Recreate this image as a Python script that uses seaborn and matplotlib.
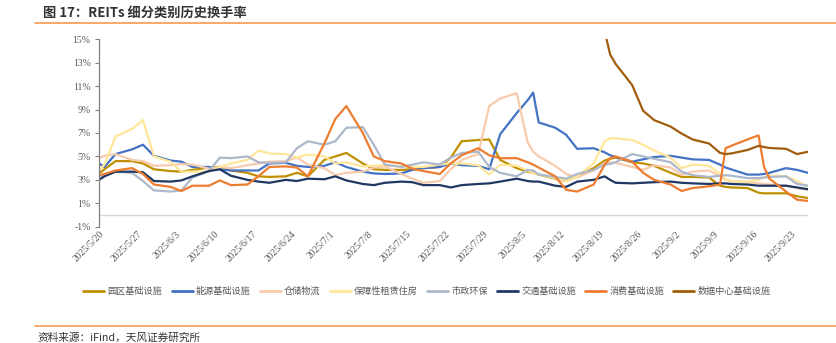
import numpy as np
import pandas as pd
import matplotlib
matplotlib.use("Agg")
import matplotlib.pyplot as plt
from matplotlib.lines import Line2D
from matplotlib.font_manager import FontProperties
import seaborn as sns

# ---------------- data ----------------
dates = ["2025-05-20", "2025-05-21", "2025-05-23", "2025-05-26", "2025-05-28", "2025-05-30",
         "2025-06-02", "2025-06-04", "2025-06-06", "2025-06-09", "2025-06-11", "2025-06-13",
         "2025-06-16", "2025-06-18", "2025-06-20", "2025-06-23", "2025-06-25", "2025-06-27",
         "2025-06-30", "2025-07-02", "2025-07-04", "2025-07-07", "2025-07-09", "2025-07-11",
         "2025-07-14", "2025-07-16", "2025-07-18", "2025-07-21", "2025-07-23", "2025-07-25",
         "2025-07-28", "2025-07-30", "2025-08-01", "2025-08-04", "2025-08-06", "2025-08-07",
         "2025-08-08", "2025-08-11", "2025-08-13", "2025-08-15", "2025-08-18", "2025-08-20",
         "2025-08-21", "2025-08-22", "2025-08-25", "2025-08-27", "2025-08-29", "2025-09-01",
         "2025-09-03", "2025-09-05", "2025-09-08", "2025-09-10", "2025-09-11", "2025-09-12",
         "2025-09-15", "2025-09-17", "2025-09-18", "2025-09-19", "2025-09-22", "2025-09-24",
         "2025-09-26"]

series_names = ["园区基础设施", "能源基础设施", "仓储物流", "保障性租赁住房",
                "市政环保", "交通基础设施", "消费基础设施", "数据中心基础设施"]

park = [3.55, 3.9, 4.6, 4.6, 4.4, 3.9, 3.75, 3.7, 3.85, 4.05, 4.1, 3.8,
        3.6, 3.3, 3.25, 3.3, 3.6, 3.3, 4.7, 5.0, 5.3, 4.4, 3.9, 3.85,
        3.85, 3.9, 4.0, 4.1, 4.9, 6.3, 6.4, 6.45, 4.7, 4.0, 3.7, 3.6,
        3.45, 3.1, 2.9, 3.3, 4.0, 4.65, 4.8, 4.9, 4.5, 4.4, 4.2, 3.6,
        3.25, 3.25, 3.2, 2.5, 2.4, 2.35, 2.3, 1.9, 1.85, 1.85, 1.85, 1.6, 1.45]
energy = [4.4, 4.1, 5.2, 5.6, 6.0, 5.05, 4.65, 4.55, 4.1, 4.1, 3.9, 3.8,
          3.8, 3.8, 4.4, 4.45, 4.2, 4.1, 4.2, 4.5, 4.1, 3.7, 3.55, 3.5,
          3.55, 3.85, 4.0, 4.1, 4.4, 4.25, 4.2, 3.9, 6.9, 8.7, 9.8, 10.45,
          7.9, 7.45, 6.85, 5.65, 5.7, 5.35, 5.1, 4.95, 4.55, 4.75, 4.95, 5.05,
          4.9, 4.75, 4.7, 4.3, 4.05, 3.9, 3.45, 3.45, 3.5, 3.6, 4.0, 3.85, 3.6]
warehouse = [4.85, 5.05, 5.2, 4.7, 4.6, 4.2, 4.25, 4.35, 4.3, 3.95, 4.1, 4.0,
             4.25, 4.4, 4.55, 4.6, 4.9, 4.3, 4.0, 3.4, 3.6, 3.7, 4.05, 4.15,
             3.5, 3.1, 2.75, 2.9, 3.9, 4.7, 5.2, 9.3, 9.95, 10.4, 6.2, 5.4,
             5.0, 4.2, 3.5, 3.2, 3.8, 4.45, 4.5, 4.45, 4.1, 3.85, 4.25, 4.05,
             3.45, 3.7, 3.8, 3.3, 3.0, 2.9, 2.8, 2.7, 2.65, 2.6, 2.5, 2.3, 2.15]
rental = [3.8, 4.3, 6.7, 7.35, 8.1, 5.0, 4.55, 3.7, 3.7, 3.7, 4.1, 4.4,
          4.7, 5.5, 5.25, 5.2, 4.9, 5.15, 5.0, 4.4, 4.5, 4.15, 4.2, 4.25,
          4.15, 4.1, 4.1, 4.3, 4.4, 4.4, 4.25, 3.45, 4.3, 4.2, 3.8, 3.55,
          3.45, 3.15, 2.9, 3.3, 4.4, 6.3, 6.55, 6.55, 6.4, 6.0, 5.5, 4.9,
          4.0, 4.3, 4.2, 3.5, 3.05, 2.9, 2.85, 3.0, 3.2, 3.35, 3.3, 2.9, 2.4]
municipal = [3.25, 3.4, 3.7, 3.6, 2.9, 2.1, 2.0, 2.1, 3.2, 3.75, 4.9, 4.85,
             5.0, 4.5, 4.45, 4.5, 5.7, 6.3, 6.0, 6.3, 7.45, 7.5, 6.0, 4.3,
             4.1, 4.3, 4.5, 4.3, 4.9, 5.3, 5.4, 4.1, 3.6, 3.3, 3.85, 3.8,
             3.45, 3.25, 3.1, 3.5, 3.85, 4.3, 4.35, 4.5, 5.2, 5.0, 4.8, 4.5,
             3.7, 3.4, 3.25, 3.35, 3.4, 3.35, 3.15, 3.15, 3.2, 3.25, 3.3, 2.65, 2.5]
transport = [3.0, 3.3, 3.7, 3.7, 3.65, 2.9, 2.85, 2.95, 3.3, 3.75, 3.9, 3.35,
             3.0, 2.85, 2.75, 3.0, 2.9, 3.1, 3.05, 3.3, 2.95, 2.65, 2.55, 2.75,
             2.85, 2.8, 2.55, 2.55, 2.35, 2.55, 2.65, 2.7, 2.85, 3.1, 2.9, 2.85,
             2.85, 2.5, 2.4, 2.85, 3.0, 3.3, 3.0, 2.75, 2.7, 2.75, 2.8, 2.85,
             2.75, 2.7, 2.65, 2.7, 2.7, 2.65, 2.6, 2.5, 2.5, 2.5, 2.5, 2.35, 2.2]
consumer = [3.4, 3.5, 3.8, 4.0, 3.5, 2.6, 2.4, 2.05, 2.5, 2.5, 2.95, 2.55,
            2.6, 3.3, 4.1, 4.15, 4.05, 3.3, 6.1, 8.2, 9.3, 7.0, 5.0, 4.6,
            4.4, 3.95, 3.75, 3.5, 4.4, 5.1, 5.7, 5.1, 4.85, 4.85, 4.5, 4.3,
            4.05, 3.3, 2.15, 2.0, 2.6, 4.3, 4.85, 5.0, 4.55, 3.6, 3.0, 2.6,
            2.05, 2.3, 2.45, 2.6, 5.7, 5.9, 6.45, 6.8, 4.1, 3.1, 2.0, 1.3, 1.2]
datacenter = [np.nan] * 41 + [15.7, 13.7, 12.9, 11.1, 8.9, 8.1, 7.55, 6.95, 6.45, 6.1,
                              5.3, 5.2, 5.25, 5.55, 5.9, 5.8, 5.72, 5.65, 5.2, 5.4]

series_values = [park, energy, warehouse, rental, municipal, transport, consumer, datacenter]
colors = ["#BF9000", "#4472C4", "#F8CBAD", "#FFE699", "#ADB9CA", "#203864", "#ED7D31", "#A15C0C"]

y_ticks = list(range(-1, 16, 2))
x_ticks = pd.date_range("2025-05-20", "2025-09-23", freq="7D")

# ---------------- style ----------------
sns.set_theme(style="white")
plt.rcParams['font.family'] = ['Noto Sans CJK SC', 'DejaVu Sans']

W, H = 837, 343
fig = plt.figure(figsize=(W / 100, H / 100), dpi=100)
x0, x1, yt, yb = 99, 808, 39.3, 226.7
ax = fig.add_axes([x0 / W, 1 - yb / H, (x1 - x0) / W, (yb - yt) / H])

frames = []
for name, vals in zip(series_names, series_values):
    frames.append(pd.DataFrame({"date": pd.to_datetime(dates), "value": vals, "series": name}))
df = pd.concat(frames, ignore_index=True).dropna()

sns.lineplot(data=df, x="date", y="value", hue="series", hue_order=series_names,
             palette=colors, linewidth=1.6, ax=ax, legend=False)
series_lines = list(ax.get_lines())[:len(series_names)]

ax.axhline(0, color="#D9D9D9", lw=1.0, zorder=0.5)

ax.set_ylim(-1, 15)
ax.set_xlim(pd.Timestamp("2025-05-20"), pd.Timestamp("2025-09-26"))
ax.set_yticks(y_ticks)
ax.set_yticklabels([f"{v}%" for v in y_ticks])
ax.set_xticks(x_ticks)
ax.set_xticklabels([f"{d.year}/{d.month}/{d.day}" for d in x_ticks],
                   rotation=45, ha="right", va="top", rotation_mode="anchor")
ax.set_xlabel("")
ax.set_ylabel("")

serif = FontProperties(family="Liberation Serif", size=7)
for lab in ax.get_xticklabels() + ax.get_yticklabels():
    lab.set_fontproperties(serif)
    lab.set_color("#595959")

for s in ["top", "right", "bottom"]:
    ax.spines[s].set_visible(False)
ax.spines["left"].set_color("#808080")
ax.spines["left"].set_linewidth(0.9)
ax.tick_params(axis="y", direction="out", length=3, width=0.8, color="#808080", pad=3, left=True)
ax.tick_params(axis="x", length=0, pad=2)
ax.grid(False)
ax.set_facecolor("none")

# legend
leg = fig.legend(series_lines, series_names, loc="center",
                 bbox_to_anchor=(427 / W, 1 - 291.7 / H), ncol=8, frameon=False,
                 prop=FontProperties(family="Noto Sans CJK SC", size=6.6),
                 handlelength=2.3, handletextpad=0.35, columnspacing=1.0,
                 labelcolor="#595959")
for h in leg.legend_handles:
    h.set_linewidth(2.0)

# title & source
fig.text(43 / W, 1 - 12.3 / H, "图 17：REITs 细分类别历史换手率", fontsize=9.5,
         fontweight="bold", color="#333333", ha="left", va="center")
fig.add_artist(Line2D([35 / W, 1.0], [1 - 23.3 / H] * 2, color="#F4A460", lw=1.3))
fig.add_artist(Line2D([35 / W, 1.0], [1 - 325.7 / H] * 2, color="#F4A460", lw=1.3))
fig.text(37 / W, 1 - 338 / H, "资料来源：iFind，天风证券研究所", fontsize=7.7,
         color="#333333", ha="left", va="center")

fig.savefig("out.png", dpi=100)
